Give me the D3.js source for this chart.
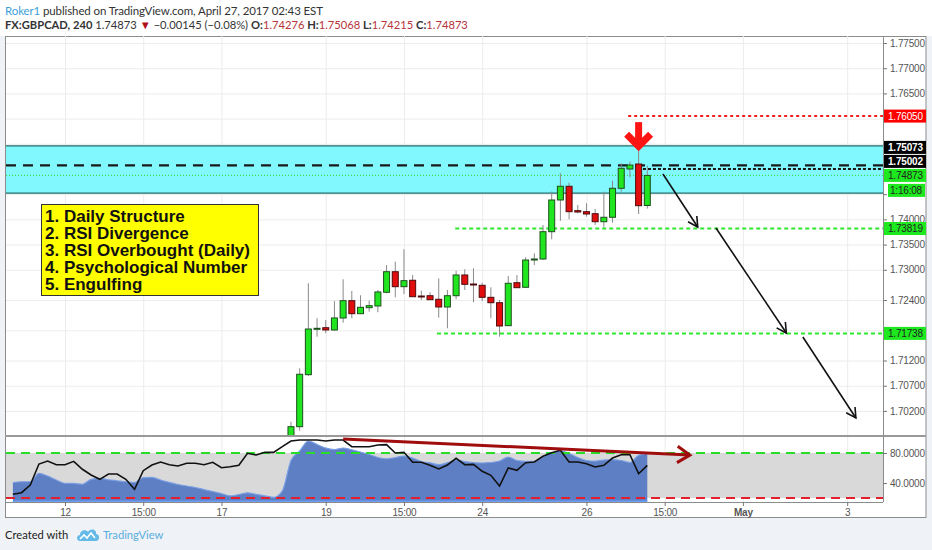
<!DOCTYPE html>
<html>
<head>
<meta charset="UTF-8"/>
<title>FX:GBPCAD, 240</title>
<script src="https://d3js.org/d3.v7.min.js"></script>
<style>
body { margin: 0; background: #eff2f6; }
svg { display: block; font-family: 'Liberation Sans', Arial, sans-serif; }
.axis text { font-size: 10px; letter-spacing: -0.2px; fill: #555; }
.axis line { stroke: #777; }
.grid line { stroke: #ececec; }
.grid path { stroke-width: 0; }
.head { font-family: Lato, sans-serif; fill: #333; white-space: pre; }
.note { font-size: 17px; font-weight: bold; fill: #111; }
.tag { font-size: 10px; letter-spacing: -0.2px; }
.foot { font-family: Lato, sans-serif; font-size: 11.2px; }
</style>
</head>
<body>
<svg width="932" height="550"></svg>
<script>
// time axis (4h bar index, 0 = Apr 12)
const timeTickIdx = [0, 9, 18, 30, 39, 48, 60, 69, 78, 90];
const timeTickLabels = ['12', '15:00', '17', '19', '15:00', '24', '26', '15:00', 'May', '3'];
const priceTicks = [1.775, 1.770, 1.765, 1.760, 1.755, 1.750, 1.745, 1.740, 1.735, 1.730, 1.724, 1.718, 1.712, 1.707, 1.702];
const rsiTicks = [80, 40];

// candles, first visible one at bar 26
const firstCandle = 26;
const candleOpen = [1.69583, 1.69887, 1.70919, 1.71825, 1.71851, 1.71806, 1.72044, 1.72387, 1.72129, 1.72248, 1.72282, 1.72554, 1.72962, 1.72665, 1.72792, 1.72480, 1.72486, 1.72415, 1.72262, 1.72486, 1.72897, 1.72718, 1.72692, 1.72454, 1.72347, 1.71891, 1.72744, 1.72653, 1.73208, 1.73214, 1.73756, 1.74385, 1.74657, 1.74173, 1.74153, 1.74113, 1.73954, 1.74042, 1.74617, 1.75000, 1.75099, 1.74276];
const candleHigh = [1.69986, 1.71046, 1.72732, 1.72038, 1.72004, 1.72381, 1.72812, 1.72579, 1.72494, 1.72387, 1.72599, 1.73095, 1.73161, 1.73407, 1.72897, 1.72585, 1.72554, 1.72831, 1.72599, 1.72982, 1.73010, 1.73030, 1.72744, 1.72653, 1.72401, 1.72877, 1.72897, 1.73248, 1.73327, 1.73889, 1.74550, 1.74915, 1.74728, 1.74286, 1.74320, 1.74206, 1.74550, 1.74768, 1.75113, 1.75145, 1.75423, 1.75068];
const candleLow = [1.69504, 1.69808, 1.70893, 1.71673, 1.71740, 1.71792, 1.71950, 1.72038, 1.72123, 1.72169, 1.72157, 1.72534, 1.72454, 1.72520, 1.72460, 1.72401, 1.72401, 1.72050, 1.71839, 1.72415, 1.72599, 1.72355, 1.72381, 1.72038, 1.71673, 1.71885, 1.72640, 1.72645, 1.73095, 1.73194, 1.73605, 1.73974, 1.74002, 1.74121, 1.74054, 1.73889, 1.73843, 1.73935, 1.74550, 1.74835, 1.74107, 1.74215];
const candleClose = [1.69887, 1.70927, 1.71825, 1.71839, 1.71806, 1.72044, 1.72387, 1.72129, 1.72256, 1.72288, 1.72560, 1.72962, 1.72665, 1.72784, 1.72466, 1.72475, 1.72407, 1.72262, 1.72486, 1.72897, 1.72712, 1.72705, 1.72454, 1.72347, 1.71885, 1.72732, 1.72645, 1.73194, 1.73214, 1.73756, 1.74385, 1.74657, 1.74153, 1.74147, 1.74107, 1.73954, 1.74042, 1.74617, 1.75014, 1.75079, 1.74272, 1.74873];

// RSI pane, first point at bar -6
const firstRsi = -6;
const rsiValues = [24.9, 27.1, 37.3, 65.3, 69.3, 64.4,
  64.4, 68.9, 58.3, 50.7, 44.9, 52, 52, 44.9, 31.6, 56.4,
  64, 68, 64.4, 62.7, 66.3, 66.3, 64.4, 67.6, 60.4, 61.7,
  63.6, 79.6, 77.3, 80.9, 80.9, 88.4, 96, 97.3, 97.3, 97.3,
  96, 97.3, 97.3, 88.4, 88.4, 88.4, 90.7, 91.1, 80, 80.9,
  67.6, 67.6, 63.6, 58.7, 64, 72.9, 64.4, 64.9, 55.6, 50.3,
  36, 60, 56.9, 67.1, 68, 75.6, 80.4, 83.6, 68, 68,
  65.7, 61.3, 63.6, 73.3, 77.7, 77.7, 52.4, 63.6];
const rsiDaily = [40.4, 41.7, 41.7, 52.9, 49.3, 44,
  39.6, 39.6, 38.3, 44.9, 46.3, 44.3, 43, 41.7, 40.7, 47.1,
  47.6, 44, 40.9, 38, 36, 34, 31.2, 28.7, 25.9, 22.8,
  24.7, 26.9, 24.8, 22.9, 20.9, 29.3, 70, 82.7, 96, 91.3,
  86.7, 84.7, 86.7, 84.3, 81.3, 78, 74, 72.3, 74, 76,
  73.3, 68.7, 67, 64.4, 67.1, 70.7, 68.7, 67.1, 66.7, 67.3,
  69.3, 74.7, 70, 68.9, 68.9, 74.7, 80, 83.3, 79.3, 74,
  70, 69.3, 70.7, 71.3, 70, 67.3, 76.9, 79.1];
const rsiUpper = 80, rsiLower = 20;

// drawings
const zoneTop = 1.7546, zoneBottom = 1.7452;
const highLevel = 1.7507;
const resistLevel = 1.7605, resistFrom = 64.8;
const closeLevel = 1.75002, closeFrom = 66.5;
const currentPrice = 1.74873;
const targetLevels = [1.73819, 1.71738];
const targetFrom = [44.9, 42.8];
const downArrow = { bar: 66, top: 1.7593, tip: 1.7541 };
const pathArrows = [
  [[68.8, 1.74901], [72.8, 1.73849]],
  [[74.9, 1.73829], [83.0, 1.71746]],
  [[84.9, 1.71667], [91.0, 1.70060]]
];
const divergence = [[32, 98.7], [71.9, 77.3]];

const labelValues = [1.7605, 1.75073, 1.75002, 1.74873, 1.73819, 1.71738];
const labelTexts = ['1.76050', '1.75073', '1.75002', '1.74873', '1.73819', '1.71738'];
const countdownText = '1:16:08';
const noteLines = ['1. Daily Structure', '2. RSI Divergence', '3. RSI Overbought (Daily)', '4. Psychological Number', '5. Engulfing'];

// ---- layout ----
const left = 6, right = 883;
const priceTop = 36, priceBottom = 435;
const rsiTop = 437, rsiBottom = 502;

const svg = d3.select('svg');

const x = d3.scaleLinear().domain([-6.79, 94.12]).range([left, right]);
const y = d3.scaleLinear().domain([1.69722, 1.77639]).range([priceBottom, priceTop]);
const yr = d3.scaleLinear().domain([14.67, 102.67]).range([rsiBottom, 436]);

// background and frame
svg.append('rect').attr('width', 932).attr('height', 36).attr('fill', '#fff');
svg.append('rect').attr('x', 5.5).attr('y', 36.5).attr('width', 920.5).attr('height', 481)
  .attr('fill', '#fff').attr('stroke', '#8c8c8c');

const defs = svg.append('defs');
defs.append('clipPath').attr('id', 'clipPrice').append('rect')
  .attr('x', left).attr('y', priceTop).attr('width', right - left).attr('height', priceBottom - priceTop);
defs.append('clipPath').attr('id', 'clipRsi').append('rect')
  .attr('x', left).attr('y', rsiTop).attr('width', right - left).attr('height', rsiBottom - rsiTop);

// grid
svg.append('g').attr('class', 'grid')
  .attr('transform', `translate(0, ${rsiBottom})`)
  .call(d3.axisBottom(x).tickValues(timeTickIdx).tickSize(-(rsiBottom - priceTop)).tickFormat(''));
svg.append('g').attr('class', 'grid')
  .attr('transform', `translate(${right}, 0)`)
  .call(d3.axisRight(y).tickValues(priceTicks).tickSize(-(right - left)).tickFormat(''));

// ---- price pane ----
const pane = svg.append('g').attr('clip-path', 'url(#clipPrice)');

pane.append('rect')
  .attr('x', left).attr('width', right - left)
  .attr('y', y(zoneTop)).attr('height', y(zoneBottom) - y(zoneTop))
  .attr('fill', '#80f8fd');
[zoneTop, zoneBottom].forEach(v => pane.append('line')
  .attr('x1', left).attr('x2', right).attr('y1', y(v)).attr('y2', y(v))
  .attr('stroke', '#256b6b').attr('stroke-width', 1.2));

function hline(v, from, color, width, dash) {
  pane.append('line')
    .attr('x1', from == null ? left : x(from)).attr('x2', right)
    .attr('y1', y(v)).attr('y2', y(v))
    .attr('stroke', color).attr('stroke-width', width)
    .attr('stroke-dasharray', dash);
}
hline(currentPrice, null, '#2fd82f', 1, '1 2');
hline(highLevel, null, '#1a1a1a', 2.2, '10 7');
hline(closeLevel, closeFrom, '#1a1a1a', 2, '3 2');
hline(resistLevel, resistFrom, '#f02020', 2, '3 3');
targetLevels.forEach((v, i) => hline(v, targetFrom[i], '#2ee82e', 2, '4 3'));

// candles
const candles = candleOpen.map((o, i) => ({
  bar: firstCandle + i, o: o, h: candleHigh[i], l: candleLow[i], c: candleClose[i]
}));
const cg = pane.selectAll('g.candle').data(candles).join('g').attr('class', 'candle');
cg.append('line')
  .attr('x1', d => x(d.bar)).attr('x2', d => x(d.bar))
  .attr('y1', d => y(d.h)).attr('y2', d => y(d.l))
  .attr('stroke', '#8a8a8a').attr('stroke-width', 1);
cg.append('rect')
  .attr('x', d => x(d.bar) - 3).attr('width', 6)
  .attr('y', d => y(Math.max(d.o, d.c)))
  .attr('height', d => Math.max(1, Math.abs(y(d.o) - y(d.c))))
  .attr('fill', d => d.c >= d.o ? '#1fe61f' : '#e20d0d')
  .attr('stroke', d => d.c >= d.o ? '#1d4f1d' : '#4f0b0b')
  .attr('stroke-width', 1);

// big red arrow over the engulfing candle
const ax = x(downArrow.bar), at = y(downArrow.tip);
pane.append('line')
  .attr('x1', ax).attr('x2', ax).attr('y1', y(downArrow.top)).attr('y2', at - 4)
  .attr('stroke', '#ff1414').attr('stroke-width', 7);
pane.append('path')
  .attr('d', `M${ax - 12},${at - 14}L${ax},${at - 2}L${ax + 12},${at - 14}`)
  .attr('fill', 'none').attr('stroke', '#ff1414').attr('stroke-width', 7);

function arrow(g, p1, p2, len, ang, color, width) {
  const a = Math.atan2(p2[1] - p1[1], p2[0] - p1[0]);
  g.append('line').attr('x1', p1[0]).attr('y1', p1[1]).attr('x2', p2[0]).attr('y2', p2[1])
    .attr('stroke', color).attr('stroke-width', width);
  const h1 = [p2[0] - len * Math.cos(a - ang), p2[1] - len * Math.sin(a - ang)];
  const h2 = [p2[0] - len * Math.cos(a + ang), p2[1] - len * Math.sin(a + ang)];
  g.append('path').attr('d', `M${h1}L${p2}L${h2}`)
    .attr('fill', 'none').attr('stroke', color).attr('stroke-width', width);
}
pathArrows.forEach(s => arrow(pane,
  [x(s[0][0]), y(s[0][1])], [x(s[1][0]), y(s[1][1])], 11, 0.5, '#111', 1.6));

// notes box
const note = svg.append('g');
note.append('rect').attr('x', 41.5).attr('y', 204.5).attr('width', 217).attr('height', 91)
  .attr('fill', '#ffff00').attr('stroke', '#333');
note.selectAll('text').data(noteLines).join('text')
  .attr('class', 'note')
  .attr('x', 45).attr('y', (d, i) => 222 + i * 17)
  .text(d => d);

// ---- RSI pane ----
const rp = svg.append('g').attr('clip-path', 'url(#clipRsi)');
rp.append('rect')
  .attr('x', left).attr('width', right - left)
  .attr('y', yr(rsiUpper)).attr('height', yr(rsiLower) - yr(rsiUpper))
  .attr('fill', '#d9d9d9');

const daily = rsiDaily.map((v, i) => [firstRsi + i, v]);
rp.append('path').datum(daily)
  .attr('d', d3.area().x(d => x(d[0])).y0(yr(15.3)).y1(d => yr(d[1])).curve(d3.curveMonotoneX))
  .attr('fill', '#5e7fc3');
rp.append('path').datum(daily)
  .attr('d', d3.line().x(d => x(d[0])).y(d => yr(d[1])).curve(d3.curveMonotoneX))
  .attr('fill', 'none').attr('stroke', '#7a9fe4').attr('stroke-width', 1.2);
rp.append('line')
  .attr('x1', x(firstRsi)).attr('x2', x(firstRsi + rsiDaily.length - 1))
  .attr('y1', yr(15.3)).attr('y2', yr(15.3))
  .attr('stroke', '#6d9ef2').attr('stroke-width', 2);

rp.append('line').attr('x1', left).attr('x2', right)
  .attr('y1', yr(rsiUpper)).attr('y2', yr(rsiUpper))
  .attr('stroke', '#27dd27').attr('stroke-width', 2).attr('stroke-dasharray', '9 6');
rp.append('line').attr('x1', left).attr('x2', right)
  .attr('y1', yr(rsiLower)).attr('y2', yr(rsiLower))
  .attr('stroke', '#e2202e').attr('stroke-width', 2).attr('stroke-dasharray', '9 6');

rp.append('path').datum(rsiValues.map((v, i) => [firstRsi + i, v]))
  .attr('d', d3.line().x(d => x(d[0])).y(d => yr(d[1])))
  .attr('fill', 'none').attr('stroke', '#111').attr('stroke-width', 1.6);

arrow(rp, [x(divergence[0][0]), yr(divergence[0][1])], [x(divergence[1][0]), yr(divergence[1][1])],
  15, 0.58, '#a00d0d', 3);

// pane borders
svg.append('line').attr('x1', 5).attr('x2', 926).attr('y1', 436).attr('y2', 436)
  .attr('stroke', '#999').attr('stroke-width', 2);
svg.append('line').attr('x1', right + 0.5).attr('x2', right + 0.5).attr('y1', priceTop).attr('y2', rsiBottom)
  .attr('stroke', '#8c8c8c');
svg.append('line').attr('x1', 5).attr('x2', right).attr('y1', rsiBottom + 0.5).attr('y2', rsiBottom + 0.5)
  .attr('stroke', '#8c8c8c');

// price tags on the axis, stacked around the current price
const cur = labelValues.indexOf(currentPrice);
const tagY = labelValues.map(v => y(v));
for (let i = cur - 1; i >= 0; i--) tagY[i] = Math.min(tagY[i], tagY[i + 1] - 14);
const countY = tagY[cur] + 15;
for (let i = cur + 1; i < labelValues.length; i++) tagY[i] = Math.max(tagY[i], (i === cur + 1 ? countY : tagY[i - 1]) + 14);
const tagRows = tagY.concat([countY]);

// axes (tick labels sitting under a tag are left out, the tag covers them)
svg.append('g').attr('class', 'axis')
  .attr('transform', `translate(${right}, 0)`)
  .call(d3.axisRight(y).tickValues(priceTicks).tickFormat(d3.format('.5f')).tickSize(4).tickPadding(3))
  .call(g => g.select('.domain').remove())
  .call(g => g.selectAll('.tick text').filter(d => tagRows.some(t => Math.abs(t - y(d)) < 9)).remove());
svg.append('g').attr('class', 'axis')
  .attr('transform', `translate(${right}, 0)`)
  .call(d3.axisRight(yr).tickValues(rsiTicks).tickFormat(d3.format('.4f')).tickSize(4).tickPadding(3))
  .call(g => g.select('.domain').remove());
svg.append('g').attr('class', 'axis')
  .attr('transform', `translate(0, ${rsiBottom})`)
  .call(d3.axisBottom(x).tickValues(timeTickIdx).tickFormat((d, i) => timeTickLabels[i]).tickSize(4).tickPadding(3))
  .call(g => g.select('.domain').remove())
  .call(g => g.selectAll('text').filter((d, i) => timeTickLabels[i] === 'May').attr('font-weight', 'bold'));

const tagFill = ['#ff0000', '#000', '#000', '#1ee81e', '#1ee81e', '#1ee81e'];
const tagInk = ['#fff', '#fff', '#fff', '#222', '#222', '#222'];
const tags = svg.append('g');
labelTexts.forEach((t, i) => {
  tags.append('rect').attr('x', right + 1).attr('y', tagY[i] - 6.5).attr('width', 42).attr('height', 13)
    .attr('fill', tagFill[i]);
  tags.append('text').attr('class', 'tag').attr('x', right + 5).attr('y', tagY[i]).attr('dy', '0.35em')
    .attr('fill', tagInk[i]).attr('font-weight', i === 1 || i === 2 ? 'bold' : 'normal').text(t);
});
tags.append('rect').attr('x', right + 5).attr('y', countY - 6.5).attr('width', 37).attr('height', 13)
  .attr('fill', '#1ee81e');
tags.append('text').attr('class', 'tag').attr('x', right + 7).attr('y', countY).attr('dy', '0.35em')
  .attr('fill', '#222').text(countdownText);

// header
const h1 = svg.append('text').attr('class', 'head').attr('x', 5).attr('y', 15)
  .attr('font-size', '11.5px').attr('textLength', 318).attr('lengthAdjust', 'spacing');
h1.append('tspan').attr('fill', '#3c9fd6').text('Roker1');
h1.append('tspan').text(' published on TradingView.com, April 27, 2017 02:43 EST');

const red = '#b5343a';
const h2 = svg.append('text').attr('class', 'head').attr('x', 5).attr('y', 29).attr('font-size', '11.2px');
[
  ['FX:GBPCAD, 240', 'bold', null],
  [' 1.74873 ', null, null],
  ['\u25BC', null, '#b0101a'],
  [' \u22120.00145 (\u22120.08%) ', null, null],
  ['O:', 'bold', null], ['1.74276', null, red],
  [' H:', 'bold', null], ['1.75068', null, red],
  [' L:', 'bold', null], ['1.74215', null, red],
  [' C:', 'bold', null], ['1.74873', null, red]
].forEach(p => {
  const t = h2.append('tspan').text(p[0]);
  if (p[1]) t.attr('font-weight', p[1]);
  if (p[2]) t.attr('fill', p[2]);
});

// footer
svg.append('text').attr('class', 'foot').attr('x', 5).attr('y', 539).attr('fill', '#222').text('Created with');
const logo = svg.append('g').attr('transform', 'translate(77, 528)');
logo.append('path')
  .attr('d', 'M3,13 C-1,13 -1,7 3,7 C3,2 9,1 11,4 C13,0 20,1 19,6 C23,6 23,13 19,13 Z')
  .attr('fill', '#63b9e7');
logo.append('path').attr('d', 'M3,11 L7,7 L10,10 L14,5 L18,10')
  .attr('fill', 'none').attr('stroke', '#fff').attr('stroke-width', 1.6);
svg.append('text').attr('class', 'foot').attr('x', 103).attr('y', 539).attr('fill', '#5aaedf').text('TradingView');
</script>
</body>
</html>
